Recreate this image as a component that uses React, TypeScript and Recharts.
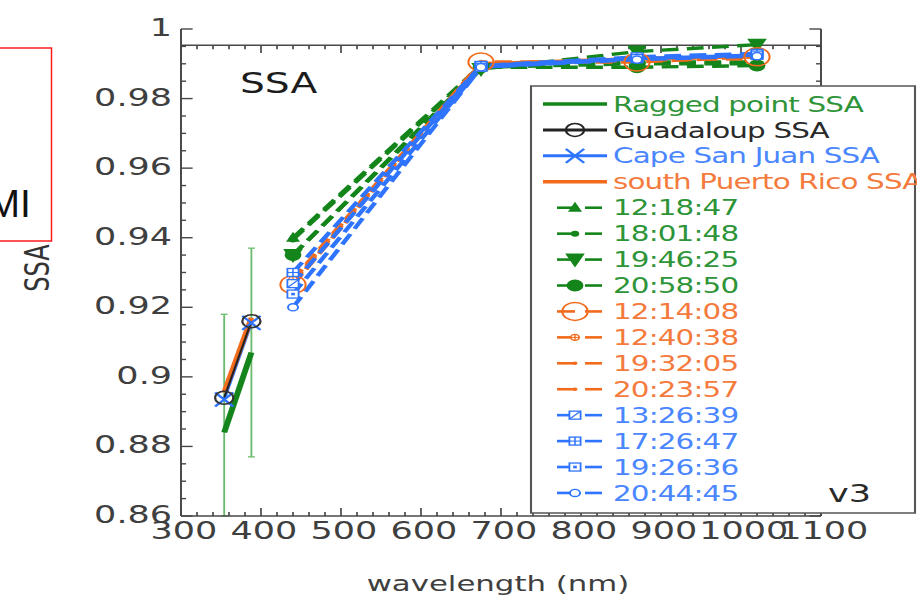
import React from "react";
import { ComposedChart, Line, XAxis, YAxis, ErrorBar, ReferenceLine } from "recharts";

// ---------------- data ----------------
// OMI wavelengths (nm)
const omiWavelengths = [354, 388];
const raggedOmiSSA = [0.884, 0.907];
// [below, above] error; the bar at 354 nm runs past the bottom axis
const raggedOmiErr: [number, number][] = [
  [0.024, 0.034],
  [0.03, 0.03],
];
const guadaloupOmiSSA = [0.894, 0.916];
const capeSanJuanOmiSSA = [0.8935, 0.9155];
const southPuertoRicoOmiSSA = [0.8955, 0.917];

// AERONET wavelengths (nm)
const aeronetWavelengths = [440, 675, 870, 1020];
// Ragged point (green)
const ragged121847 = [0.94, 0.9895, 0.9905, 0.9905];
const ragged180148 = [0.9395, 0.989, 0.99, 0.99];
const ragged194625 = [0.935, 0.9885, 0.9935, 0.9955];
const ragged205850 = [0.935, 0.989, 0.989, 0.9895];
// south Puerto Rico (orange)
const spr121408 = [0.9265, 0.9905, 0.9905, 0.992];
const spr124038 = [0.928, 0.99, 0.9915, 0.992];
const spr193205 = [0.927, 0.99, 0.991, 0.9915];
const spr202357 = [0.9275, 0.9895, 0.9915, 0.992];
// Cape San Juan (blue)
const csj132639 = [0.9268, 0.9895, 0.9915, 0.9925];
const csj172647 = [0.93, 0.9895, 0.992, 0.993];
const csj192636 = [0.9238, 0.989, 0.9915, 0.9925];
const csj204445 = [0.92, 0.989, 0.9912, 0.9922];

const siteLabels = ["Ragged point SSA", "Guadaloup SSA", "Cape San Juan SSA", "south Puerto Rico SSA"];
const timeLabels = [
  "12:18:47", "18:01:48", "19:46:25", "20:58:50",
  "12:14:08", "12:40:38", "19:32:05", "20:23:57",
  "13:26:39", "17:26:47", "19:26:36", "20:44:45",
];

const yMajorTicks = [0.86, 0.88, 0.9, 0.92, 0.94, 0.96, 0.98, 1];
const xMajorTicks = [300, 400, 500, 600, 700, 800, 900, 1000, 1100];
const frameTopSSA = 0.9953;

// ---------------- styling / geometry ----------------
const S = 1.4; // horizontal stretch of the original figure
const W = 655;
const H = 600;
const PLOT_L = 181 / S;
const PLOT_R = 821 / S;
const PLOT_T = 29;
const PLOT_B = 516;
const Y_AXIS_W = 60;
const X_AXIS_H = 30;
const THIN = 0.01;

const AXIS = "#474747";
const TXT = "#3f3f3f";
const GREEN = "#13851a";
const GREEN_T = "#2e9438";
const ORANGE = "#f26b1d";
const ORANGE_T = "#f47b3d";
const BLUE = "#2f74ff";
const BLUE_T = "#4a86ff";
const BLACK = "#222222";
const ERR = "#6cbb6c";
const FONT = "DejaVu Sans";

const subdivide = (majors: number[], n: number) => {
  const out: number[] = [];
  for (let i = 0; i < majors.length - 1; i++) {
    const a = majors[i];
    const b = majors[i + 1];
    for (let k = 0; k < n; k++) out.push(+(a + ((b - a) * k) / n).toFixed(4));
  }
  out.push(majors[majors.length - 1]);
  return out;
};
const yAllTicks = subdivide(yMajorTicks, 4);
const xAllTicks = subdivide(xMajorTicks, 5);
const isMajor = (v: number, majors: number[]) => majors.some((m) => Math.abs(m - v) < 1e-6);
const fmtY = (v: number) => String(parseFloat(v.toFixed(2)));

const yDomain: [number, number] = [yMajorTicks[0], yMajorTicks[yMajorTicks.length - 1]];
const xDomain: [number, number] = [xMajorTicks[0], xMajorTicks[xMajorTicks.length - 1]];
const PX_PER_SSA = (PLOT_B - PLOT_T) / (yDomain[1] - yDomain[0]);
const PX_PER_NM = (PLOT_R - PLOT_L) / (xDomain[1] - xDomain[0]);

const pts = (xs: number[], ys: number[], errs?: any[]) =>
  xs.map((x, i) => ({ x, y: ys[i], err: errs ? errs[i] : 0 }));

// ---------------- markers ----------------
function Marker({ kind, cx, cy, color }: { kind: string; cx: number; cy: number; color: string }) {
  if (cx == null || cy == null || isNaN(cx) || isNaN(cy)) return <g />;
  switch (kind) {
    case "triUp":
      return <polygon points={`${cx},${cy - 6} ${cx - 5},${cy + 4} ${cx + 5},${cy + 4}`} fill={color} />;
    case "triDown":
      return <polygon points={`${cx - 7},${cy - 6} ${cx + 7},${cy - 6} ${cx},${cy + 8}`} fill={color} />;
    case "dotS":
      return <circle cx={cx} cy={cy} r={3} fill={color} />;
    case "dotL":
      return <circle cx={cx} cy={cy} r={6} fill={color} />;
    case "ringL":
      return <circle cx={cx} cy={cy} r={9} fill="none" stroke={color} strokeWidth={1.5} />;
    case "ringCross":
      return (
        <g>
          <circle cx={cx} cy={cy} r={3} fill="#fff" stroke={color} strokeWidth={1.2} />
          <line x1={cx - 3} y1={cy} x2={cx + 3} y2={cy} stroke={color} strokeWidth={1} />
          <line x1={cx} y1={cy - 3} x2={cx} y2={cy + 3} stroke={color} strokeWidth={1} />
        </g>
      );
    case "nub":
      return <circle cx={cx} cy={cy} r={1.8} fill={color} />;
    case "sqSlash":
      return (
        <g>
          <rect x={cx - 4} y={cy - 4} width={8} height={8} fill="#fff" stroke={color} strokeWidth={1.3} />
          <line x1={cx - 4} y1={cy + 4} x2={cx + 4} y2={cy - 4} stroke={color} strokeWidth={1.1} />
        </g>
      );
    case "sqGrid":
      return (
        <g>
          <rect x={cx - 4} y={cy - 4} width={8} height={8} fill="#fff" stroke={color} strokeWidth={1.3} />
          <line x1={cx - 4} y1={cy} x2={cx + 4} y2={cy} stroke={color} strokeWidth={1.1} />
          <line x1={cx} y1={cy - 4} x2={cx} y2={cy + 4} stroke={color} strokeWidth={1.1} />
        </g>
      );
    case "sqDot":
      return (
        <g>
          <rect x={cx - 4} y={cy - 4} width={8} height={8} fill="#fff" stroke={color} strokeWidth={1.3} />
          <rect x={cx - 1.3} y={cy - 1.3} width={2.6} height={2.6} fill={color} />
        </g>
      );
    case "ringS":
      return <circle cx={cx} cy={cy} r={3.6} fill="#fff" stroke={color} strokeWidth={1.4} />;
    case "ringBlack":
      return <circle cx={cx} cy={cy} r={6.5} fill="none" stroke={color} strokeWidth={1.6} />;
    case "xMark":
      return (
        <g>
          <line x1={cx - 6.5} y1={cy - 7} x2={cx + 6.5} y2={cy + 7} stroke={color} strokeWidth={2} />
          <line x1={cx - 6.5} y1={cy + 7} x2={cx + 6.5} y2={cy - 7} stroke={color} strokeWidth={2} />
        </g>
      );
    default:
      return <g />;
  }
}

const dotFn = (id: string, kind: string, color: string) => (p: any) => (
  <Marker key={`${id}-${p.index}`} kind={kind} cx={p.cx} cy={p.cy} color={color} />
);

// ---------------- AERONET series config ----------------
const aeronetSeries = [
  { id: "g1", values: ragged121847, color: GREEN, marker: "triUp" },
  { id: "g2", values: ragged180148, color: GREEN, marker: "dotS" },
  { id: "g3", values: ragged194625, color: GREEN, marker: "triDown" },
  { id: "g4", values: ragged205850, color: GREEN, marker: "dotL" },
  { id: "o1", values: spr121408, color: ORANGE, marker: "ringL" },
  { id: "o2", values: spr124038, color: ORANGE, marker: "ringCross" },
  { id: "o3", values: spr193205, color: ORANGE, marker: "nub" },
  { id: "o4", values: spr202357, color: ORANGE, marker: "nub" },
  { id: "b1", values: csj132639, color: BLUE, marker: "sqSlash" },
  { id: "b2", values: csj172647, color: BLUE, marker: "sqGrid" },
  { id: "b3", values: csj192636, color: BLUE, marker: "sqDot" },
  { id: "b4", values: csj204445, color: BLUE, marker: "ringS" },
];
const timeColors = [GREEN_T, GREEN_T, GREEN_T, GREEN_T, ORANGE_T, ORANGE_T, ORANGE_T, ORANGE_T, BLUE_T, BLUE_T, BLUE_T, BLUE_T];

// ---------------- tick labels ----------------
function LeftLabel(props: any) {
  const { x, y, payload } = props;
  return (
    <text x={x} y={y + 7} textAnchor="end" fontFamily={FONT} fontSize={25} fill={TXT}>
      {fmtY(payload.value)}
    </text>
  );
}
function BottomLabel(props: any) {
  const { x, y, payload } = props;
  return (
    <text x={x + 2} y={y + 23} textAnchor="middle" fontFamily={FONT} fontSize={25} fill={TXT}>
      {payload.value}
    </text>
  );
}

// inward tick marks (lengths in px) built as short reference segments
const yTickLen = (v: number) => (isMajor(v, yMajorTicks) ? 8.3 : 3.6) / PX_PER_NM;
const xTickLen = (v: number) => (isMajor(v, xMajorTicks) ? 8 : 4) / PX_PER_SSA;

// ---------------- legend ----------------
function LegendOverlay() {
  const boxX = 531 / S;
  const boxY = 86;
  const boxW = (915 - 531) / S;
  const boxH = 427;
  const rowY = (i: number) => 104 + i * 25.93;
  const textX = 613 / S;
  const mainX1 = 543 / S;
  const mainX2 = 607 / S;
  const mid = 575 / S;
  const siteColors = [GREEN_T, "#2a2a2a", BLUE_T, ORANGE_T];
  const siteLine = [GREEN, BLACK, BLUE, ORANGE];
  return (
    <g>
      <rect x={boxX} y={boxY} width={boxW} height={boxH} fill="#fff" stroke="#555" strokeWidth={1.5} />
      {siteLabels.map((lab, i) => {
        const y = rowY(i);
        return (
          <g key={lab}>
            <line x1={mainX1} y1={y} x2={mainX2} y2={y} stroke={siteLine[i]} strokeWidth={i === 0 || i === 3 ? 3.4 : 3} />
            {i === 1 && <Marker kind="ringBlack" cx={(mainX1 + mainX2) / 2} cy={y} color={BLACK} />}
            {i === 2 && <Marker kind="xMark" cx={(mainX1 + mainX2) / 2} cy={y} color={BLUE} />}
            <text x={textX} y={y + 7.6} fontFamily={FONT} fontSize={21} letterSpacing={-0.6} fill={siteColors[i]}>
              {lab}
            </text>
          </g>
        );
      })}
      {timeLabels.map((lab, j) => {
        const y = rowY(j + 4);
        const s = aeronetSeries[j];
        return (
          <g key={lab + j}>
            <line x1={557 / S} y1={y} x2={mid} y2={y} stroke={s.color} strokeWidth={2.6} />
            <line x1={585 / S} y1={y} x2={602 / S} y2={y} stroke={s.color} strokeWidth={2.6} />
            <Marker kind={s.marker} cx={mid} cy={y} color={s.color} />
            <text x={textX} y={y + 7.6} fontFamily={FONT} fontSize={21} letterSpacing={-0.6} fill={timeColors[j]}>
              {lab}
            </text>
          </g>
        );
      })}
      <text x={828 / S} y={502} fontFamily={FONT} fontSize={25} fill="#2a2a2a">
        v3
      </text>
    </g>
  );
}

export default function App() {
  return (
    <div style={{ position: "absolute", left: 0, top: 0, width: 917, height: 600, overflow: "hidden", background: "#fff" }}>
      <div
        style={{
          position: "absolute",
          left: 0,
          top: 0,
          width: W,
          height: H,
          transform: `scaleX(${S})`,
          transformOrigin: "0 0",
        }}
      >
        <ComposedChart
          width={W}
          height={H}
          margin={{ top: PLOT_T, left: PLOT_L - Y_AXIS_W, right: W - PLOT_R, bottom: H - PLOT_B - X_AXIS_H }}
        >
          <XAxis
            type="number"
            dataKey="x"
            domain={xDomain}
            allowDataOverflow
            ticks={xMajorTicks}
            interval={0}
            height={X_AXIS_H}
            tickSize={0}
            tickMargin={0}
            tickLine={false}
            axisLine={{ stroke: AXIS, strokeWidth: 1.5 }}
            tick={<BottomLabel />}
          />
          <YAxis
            type="number"
            domain={yDomain}
            allowDataOverflow
            ticks={yMajorTicks}
            interval={0}
            width={Y_AXIS_W}
            tickSize={0}
            tickMargin={6.4}
            tickLine={false}
            axisLine={{ stroke: AXIS, strokeWidth: 1.4 }}
            tick={<LeftLabel />}
          />
          {/* right axis line */}
          <YAxis
            yAxisId="r"
            orientation="right"
            mirror
            type="number"
            domain={yDomain}
            allowDataOverflow
            ticks={yMajorTicks}
            interval={0}
            width={THIN}
            tick={false}
            tickLine={false}
            axisLine={{ stroke: AXIS, strokeWidth: 1.4 }}
          />

          {/* inward tick marks: left, right, bottom */}
          {yAllTicks.map((v) => (
            <ReferenceLine
              key={`lt-${v}`}
              segment={[
                { x: xDomain[0], y: v },
                { x: xDomain[0] + yTickLen(v), y: v },
              ]}
              stroke={AXIS}
              strokeWidth={1.4}
            />
          ))}
          {yAllTicks.map((v) => (
            <ReferenceLine
              key={`rt-${v}`}
              segment={[
                { x: xDomain[1], y: v },
                { x: xDomain[1] - yTickLen(v), y: v },
              ]}
              stroke={AXIS}
              strokeWidth={1.4}
            />
          ))}
          {xAllTicks.map((v) => (
            <ReferenceLine
              key={`bt-${v}`}
              segment={[
                { x: v, y: yDomain[0] },
                { x: v, y: yDomain[0] + xTickLen(v) },
              ]}
              stroke={AXIS}
              strokeWidth={1.2}
            />
          ))}

          {/* top frame line with its tick marks */}
          <ReferenceLine y={frameTopSSA} stroke={AXIS} strokeWidth={1.5} />
          {xAllTicks.map((v) => (
            <ReferenceLine
              key={`ft-${v}`}
              segment={[
                { x: v, y: frameTopSSA },
                { x: v, y: frameTopSSA - (isMajor(v, xMajorTicks) ? 7.7 : 4) / PX_PER_SSA },
              ]}
              stroke={AXIS}
              strokeWidth={1.2}
            />
          ))}

          {/* OMI retrievals */}
          <Line
            data={pts(omiWavelengths, raggedOmiSSA, raggedOmiErr)}
            dataKey="y"
            stroke={GREEN}
            strokeWidth={4.3}
            dot={false}
            isAnimationActive={false}
          >
            <ErrorBar dataKey="err" width={2.5} stroke={ERR} strokeWidth={1.3} direction="y" />
          </Line>
          <Line
            data={pts(omiWavelengths, capeSanJuanOmiSSA)}
            dataKey="y"
            stroke={BLUE}
            strokeWidth={2.2}
            dot={dotFn("csjOmi", "xMark", BLUE)}
            isAnimationActive={false}
          />
          <Line
            data={pts(omiWavelengths, southPuertoRicoOmiSSA)}
            dataKey="y"
            stroke={ORANGE}
            strokeWidth={4}
            dot={false}
            isAnimationActive={false}
          />
          <Line
            data={pts(omiWavelengths, guadaloupOmiSSA)}
            dataKey="y"
            stroke={BLACK}
            strokeWidth={1.5}
            dot={dotFn("gOmi", "ringBlack", "#333")}
            isAnimationActive={false}
          />

          {/* AERONET retrievals */}
          {aeronetSeries.map((s) => (
            <Line
              key={s.id}
              data={pts(aeronetWavelengths, s.values)}
              dataKey="y"
              stroke={s.color}
              strokeWidth={3.4}
              strokeDasharray="12 6"
              dot={dotFn(s.id, s.marker, s.color)}
              isAnimationActive={false}
            />
          ))}
        </ComposedChart>
        <svg width={W} height={H} style={{ position: "absolute", left: 0, top: 0, pointerEvents: "none" }}>
          <text x={240 / S} y={93} fontFamily={FONT} fontSize={28} fill="#1c1c1c">
            SSA
          </text>
          <text
            x={37 / S}
            y={268}
            transform={`rotate(-90, ${37 / S}, 268)`}
            textAnchor="middle"
            dominantBaseline="central"
            fontFamily={FONT}
            fontSize={24}
            fill="#333"
          >
            SSA
          </text>
          <text x={498 / S} y={591} textAnchor="middle" fontFamily={FONT} fontSize={22} fill={TXT}>
            wavelength (nm)
          </text>
          <LegendOverlay />
        </svg>
      </div>
      <svg width={917} height={600} style={{ position: "absolute", left: 0, top: 0, pointerEvents: "none" }}>
        <rect x={-2} y={48} width={53.5} height={193} fill="none" stroke="#ff1a1a" strokeWidth={1.5} />
        <text x={-12.5} y={217} fontFamily="Liberation Sans" fontSize={39} fill="#111">
          MI
        </text>
      </svg>
    </div>
  );
}
